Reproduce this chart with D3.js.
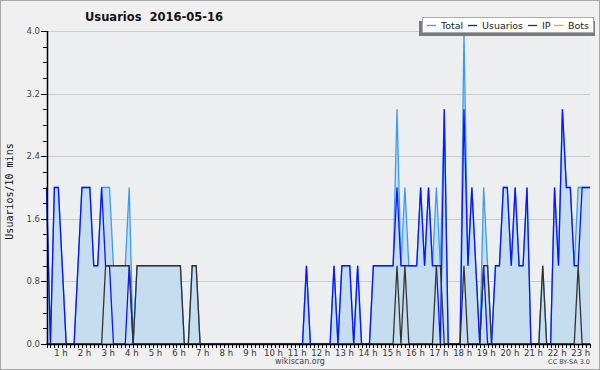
<!DOCTYPE html>
<html>
<head>
<meta charset="utf-8">
<script src="https://cdn.jsdelivr.net/npm/d3@7"></script>
<style>
  body { margin: 0; background: #fff; }
  svg { display: block; }
</style>
</head>
<body>
<svg id="chart" width="600" height="370"></svg>
<script>
// 10-minute samples, first one at 0:40, last at 23:50
const startMinute = 40;
const yTicks = [0.0, 0.8, 1.6, 2.4, 3.2, 4.0];
const hours = d3.range(1, 24);
const legendNames = ["Total", "Usuarios", "IP", "Bots"];

const usuarios = [
  2,0,2,2,1,0,0,0,1,2,
  2,2,1,1,2,1,1,0,0,0,
  0,1,0,0,0,0,0,0,0,0,
  0,0,0,0,0,0,0,0,0,0,
  0,0,0,0,0,0,0,0,0,0,
  0,0,0,0,0,0,0,0,0,0,
  0,0,0,0,0,0,1,0,0,0,
  0,0,0,1,0,1,1,1,0,1,
  0,0,0,1,1,1,1,1,1,2,
  1,1,1,1,1,2,1,2,1,1,
  0,3,0,0,0,0,3,1,2,1,
  0,1,0,0,1,1,2,2,1,2,
  1,1,2,0,0,0,0,0,0,2,
  1,3,2,2,1,1,2,2,2
];
const ip = [
  0,0,0,0,0,0,0,0,0,0,
  0,0,0,0,0,1,1,1,1,1,
  1,1,0,1,1,1,1,1,1,1,
  1,1,1,1,1,0,0,1,1,0,
  0,0,0,0,0,0,0,0,0,0,
  0,0,0,0,0,0,0,0,0,0,
  0,0,0,0,0,0,0,0,0,0,
  0,0,0,0,0,0,0,0,0,0,
  0,0,0,0,0,0,0,0,0,1,
  0,1,0,0,0,0,0,0,0,1,
  1,0,0,0,0,0,1,0,0,0,
  0,1,1,0,0,0,0,0,0,0,
  0,0,0,0,0,0,1,0,0,0,
  0,0,0,0,0,1,0,0,0
];
const total = [
  2,0,2,2,1,0,0,0,1,2,
  2,2,1,1,2,2,2,1,1,1,
  1,2,0,1,1,1,1,1,1,1,
  1,1,1,1,1,0,0,1,1,0,
  0,0,0,0,0,0,0,0,0,0,
  0,0,0,0,0,0,0,0,0,0,
  0,0,0,0,0,0,1,0,0,0,
  0,0,0,1,0,1,1,1,0,1,
  0,0,0,1,1,1,1,1,1,3,
  1,2,1,1,1,2,1,2,1,2,
  1,3,0,0,0,0,4,1,2,1,
  0,2,1,0,1,1,2,2,1,2,
  1,1,2,0,0,0,1,0,0,2,
  1,3,2,2,1,2,2,2,2
];
const bots = usuarios.map(() => 0);

const colors = { Total: "#3d9cf0", Usuarios: "#0a14ff", IP: "#333333", Bots: "#ff9a1e" };

const svg = d3.select("#chart");
const W = 600, H = 370;
const plot = { left: 47, right: 590, top: 31, bottom: 344 };

// frame
svg.append("rect").attr("x", 0.5).attr("y", 0.5).attr("width", W - 1).attr("height", H - 1)
  .attr("fill", "#f0f0f0").attr("stroke", "#a8a8a8");
svg.append("rect").attr("x", plot.left).attr("y", plot.top)
  .attr("width", plot.right - plot.left).attr("height", plot.bottom - plot.top)
  .attr("fill", "#eceef0");

const n = usuarios.length;
const x = d3.scaleLinear().domain([0, n - 1]).range([46.5, 590]);
const y = d3.scaleLinear().domain([0, 4]).range([plot.bottom, plot.top]);

// grid
svg.append("g").selectAll("line").data(yTicks.filter(d => d > 0)).join("line")
  .attr("x1", plot.left).attr("x2", plot.right)
  .attr("y1", d => Math.round(y(d)) + 0.5).attr("y2", d => Math.round(y(d)) + 0.5)
  .attr("stroke", "#cccccc");

// total area + lines
const idx = d3.range(n);
svg.append("path").datum(idx)
  .attr("fill", "#c6ddf0")
  .attr("d", d3.area().x(i => x(i)).y0(plot.bottom).y1(i => y(total[i])));

const line = arr => d3.line().x(i => x(i)).y(i => y(arr[i]));
[["Bots", bots], ["Total", total], ["Usuarios", usuarios], ["IP", ip]].forEach(([name, arr]) => {
  svg.append("path").datum(idx)
    .attr("fill", "none")
    .attr("stroke", colors[name])
    .attr("stroke-width", 1.3)
    .attr("stroke-linejoin", "miter")
    .attr("d", line(arr));
});

// y axis
const yMinor = d3.range(0, 4.001, 0.2);
svg.append("g").selectAll("line").data(yMinor).join("line")
  .attr("x1", d => yTicks.some(t => Math.abs(t - d) < 1e-6) ? plot.left - 6 : plot.left - 4)
  .attr("x2", plot.left)
  .attr("y1", d => Math.round(y(d)) + 0.5).attr("y2", d => Math.round(y(d)) + 0.5)
  .attr("stroke", "#000");
svg.append("line").attr("x1", plot.left + 0.5).attr("x2", plot.left + 0.5)
  .attr("y1", plot.top).attr("y2", plot.bottom + 1).attr("stroke", "#000").attr("stroke-width", 1.5);
svg.append("g").selectAll("text").data(yTicks).join("text")
  .attr("x", plot.left - 7).attr("y", d => y(d) + 3)
  .attr("text-anchor", "end")
  .attr("font-family", "DejaVu Sans").attr("font-size", 8.5).attr("fill", "#444")
  .text(d => d.toFixed(1));

// x axis
svg.append("g").selectAll("line").data(idx).join("line")
  .attr("x1", i => Math.round(x(i)) + 0.5).attr("x2", i => Math.round(x(i)) + 0.5)
  .attr("y1", plot.bottom).attr("y2", plot.bottom + 4)
  .attr("stroke", "#000");
svg.append("line").attr("x1", plot.left).attr("x2", plot.right + 1)
  .attr("y1", plot.bottom + 0.5).attr("y2", plot.bottom + 0.5)
  .attr("stroke", "#000").attr("stroke-width", 1.5);
const hourIndex = h => (h * 60 - startMinute) / 10;
svg.append("g").selectAll("text").data(hours).join("text")
  .attr("x", h => x(hourIndex(h)) + 6.5).attr("y", plot.bottom + 12)
  .attr("text-anchor", "middle")
  .attr("font-family", "DejaVu Sans").attr("font-size", 8.5).attr("fill", "#333")
  .text(h => h + " h");

// y label
svg.append("text")
  .attr("transform", `translate(13,${(plot.top + plot.bottom) / 2 + 4}) rotate(-90)`)
  .attr("text-anchor", "middle")
  .attr("font-family", "DejaVu Sans Mono").attr("font-size", 10).attr("fill", "#111")
  .text("Usuarios/10 mins");

// title
svg.append("text").attr("x", 85).attr("y", 21)
  .attr("font-family", "DejaVu Sans").attr("font-weight", "bold").attr("font-size", 11.5)
  .attr("fill", "#111").attr("xml:space", "preserve")
  .text("Usuarios  2016-05-16");

// legend
const lg = svg.append("g");
lg.append("rect").attr("x", 419).attr("y", 21).attr("width", 176).attr("height", 15).attr("fill", "#7a7a7a");
lg.append("rect").attr("x", 422.5).attr("y", 17.5).attr("width", 171).attr("height", 15)
  .attr("fill", "#fff").attr("stroke", "#aaa");
const legendX = [427, 468, 528, 554];
legendNames.forEach((name, k) => {
  lg.append("line").attr("x1", legendX[k]).attr("x2", legendX[k] + 9)
    .attr("y1", 25.5).attr("y2", 25.5).attr("stroke", colors[name]).attr("stroke-width", 1.3);
  lg.append("text").attr("x", legendX[k] + 14).attr("y", 29)
    .attr("font-family", "DejaVu Sans").attr("font-size", 9.5).attr("fill", "#222")
    .text(name);
});

// footer
svg.append("text").attr("x", 300).attr("y", 364).attr("text-anchor", "middle")
  .attr("font-family", "DejaVu Sans").attr("font-size", 8).attr("fill", "#444")
  .text("wikiscan.org");
svg.append("text").attr("x", 590).attr("y", 364).attr("text-anchor", "end")
  .attr("font-family", "DejaVu Sans").attr("font-size", 6.5).attr("fill", "#444")
  .text("CC BY-SA 3.0");
</script>
</body>
</html>
